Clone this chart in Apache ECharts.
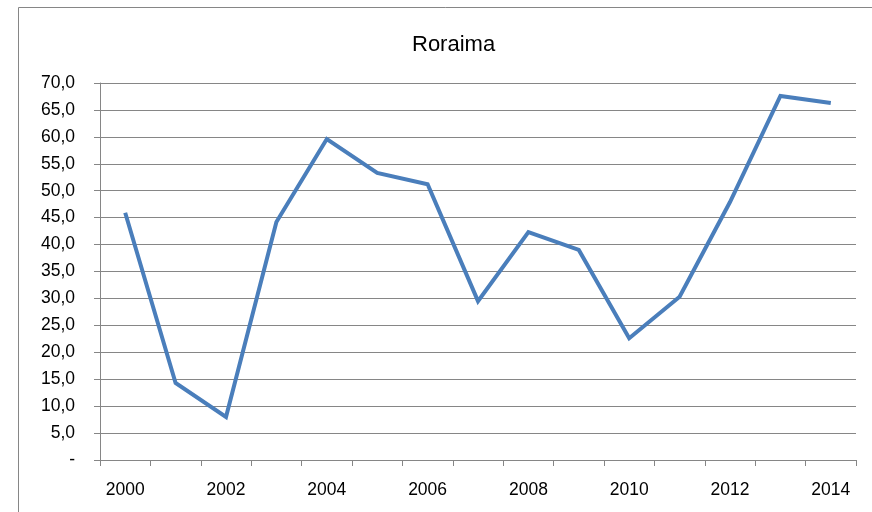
<!DOCTYPE html>
<html>
<head>
    <meta charset="utf-8">
    <script src="https://cdn.jsdelivr.net/npm/echarts@6/dist/echarts.min.js"></script>
    <style>
        body { margin: 0; background: #fff; }
    </style>
</head>
<body>
    <div id="main" style="width: 872px;height:512px;"></div>
    <script type="text/javascript">
        var years = ['2000','2001','2002','2003','2004','2005','2006','2007','2008','2009','2010','2011','2012','2013','2014'];
        var roraima = [45.9, 14.3, 8.0, 44.2, 59.6, 53.3, 51.2, 29.5, 42.3, 39.0, 22.6, 30.3, 47.9, 67.6, 66.3];

        var font = "'Liberation Sans', Arial, sans-serif";

        var option = {
            animation: false,
            title: {
                text: 'Roraima',
                left: 407,
                top: 29,
                textStyle: {fontFamily: font, fontSize: 22, fontWeight: 'normal', color: '#000'}
            },
            graphic: [{
                type: 'rect',
                shape: {x: 18.5, y: 7.5, width: 900, height: 600},
                style: {fill: 'none', stroke: '#868686', lineWidth: 1},
                silent: true
            }],
            grid: {
                left: 100,
                right: 16,
                top: 83,
                bottom: 52
            },
            xAxis: {
                type: 'category',
                boundaryGap: true,
                data: years,
                axisLine: {lineStyle: {color: '#868686', width: 1}},
                axisTick: {show: true, interval: 0, length: 6, lineStyle: {color: '#868686'}},
                axisLabel: {
                    interval: 1,
                    margin: 21,
                    fontFamily: font,
                    fontSize: 17.5,
                    color: '#000'
                },
                splitLine: {show: false}
            },
            yAxis: {
                type: 'value',
                min: 0,
                max: 70,
                interval: 5,
                axisLine: {show: true, lineStyle: {color: '#868686', width: 1}},
                axisTick: {show: true, length: 6, lineStyle: {color: '#868686'}},
                axisLabel: {
                    margin: 25,
                    fontFamily: font,
                    fontSize: 17.5,
                    color: '#000',
                    formatter: function (v) {
                        return v === 0 ? '-' : v.toFixed(1).replace('.', ',');
                    }
                },
                splitLine: {show: true, lineStyle: {color: '#868686', width: 1}}
            },
            series: [{
                name: 'Roraima',
                type: 'line',
                data: roraima,
                symbol: 'none',
                lineStyle: {color: '#4A7EBB', width: 4, join: 'miter'},
                itemStyle: {color: '#4A7EBB'}
            }]
        };

        var myChart = echarts.init(document.getElementById('main'));
        myChart.setOption(option);
    </script>
</body>
</html>
